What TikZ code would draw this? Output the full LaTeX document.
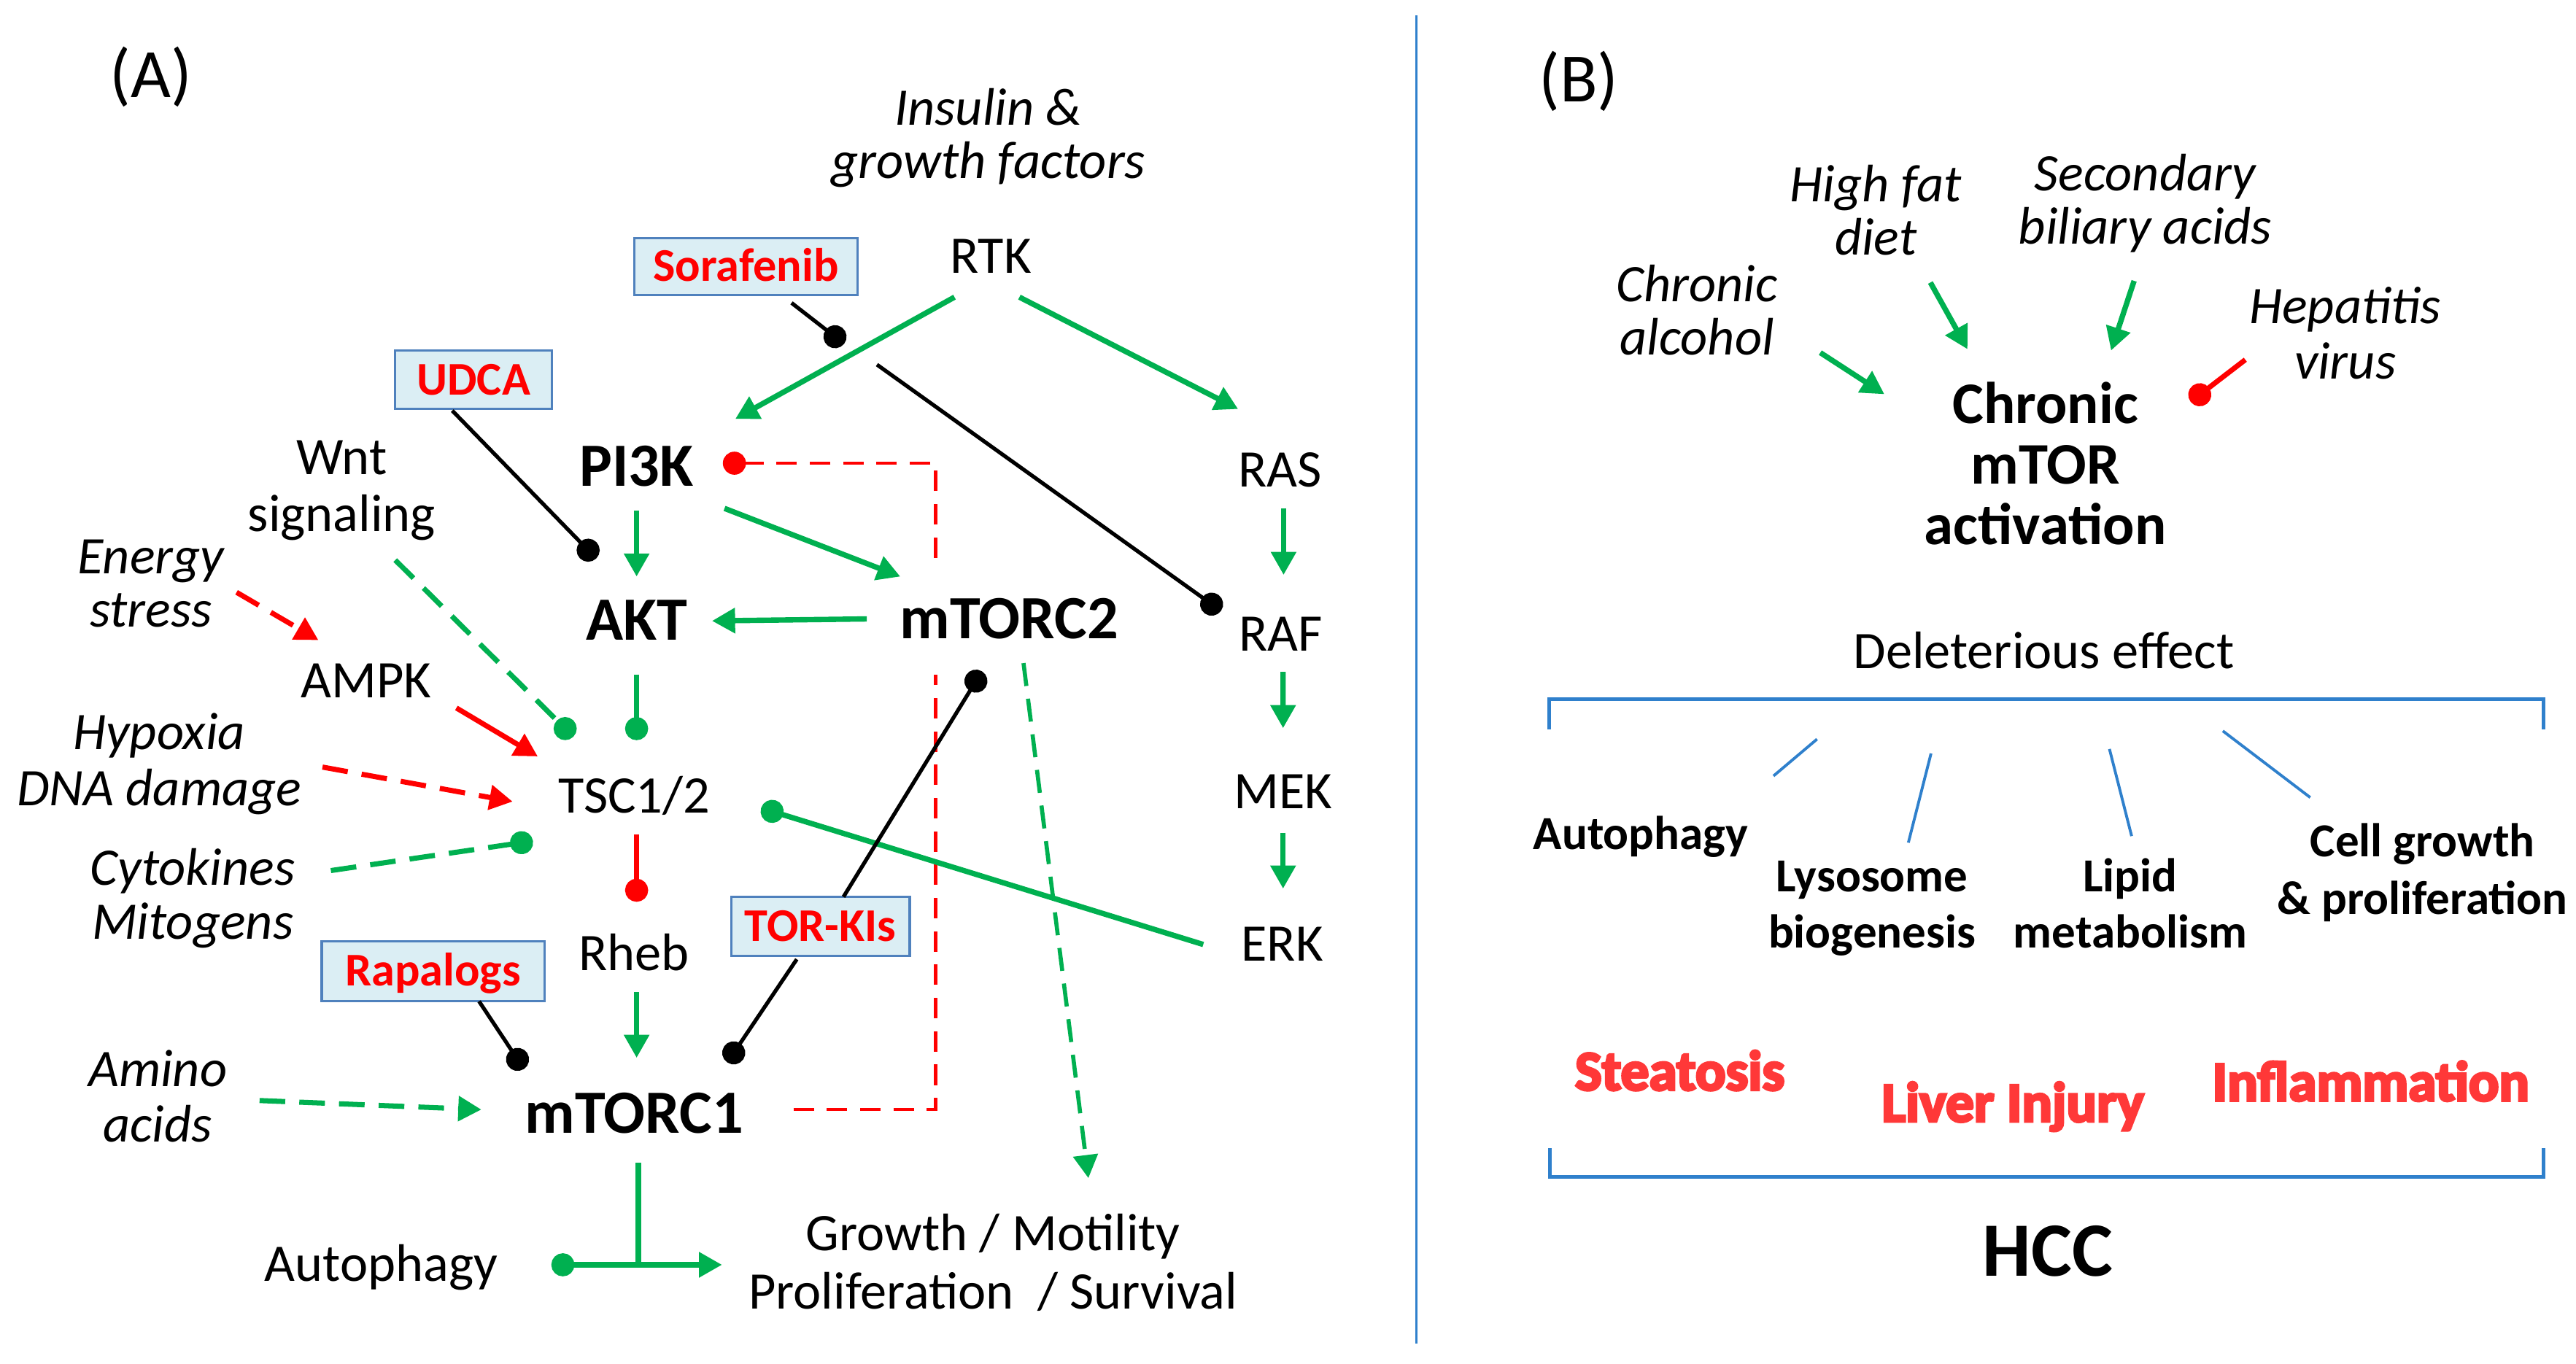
\documentclass[tikz,border=0pt]{standalone}
\usepackage{fontspec}
\setmainfont{Carlito}
\newfontfamily\heavyfont{Carlito}[BoldFeatures={FakeBold=4.5}]
\usetikzlibrary{arrows.meta,calc}
\definecolor{mgreen}{RGB}{0,176,80}
\definecolor{mred}{RGB}{255,0,0}
\definecolor{boxfill}{RGB}{219,238,244}
\definecolor{boxline}{RGB}{79,129,189}
\definecolor{mblue}{RGB}{47,128,204}
\definecolor{softred}{RGB}{255,56,56}
\newcommand{\myfs}[2]{\fontsize{#1pt}{#2pt}\selectfont}
\tikzset{
 nb/.style={inner sep=0pt, text depth=0pt},
 lbl/.style={nb, text height=13pt, font=\myfs{20.6}{21}},
 ilbl/.style={nb, text height=13pt, font=\myfs{20.6}{21}\itshape},
 blbl/.style={nb, text height=15.2pt, font=\myfs{24}{25}\bfseries},
 plbl/.style={nb, text height=17.1pt, font=\myfs{27}{28}},
 elbl/.style={nb, text height=11.7pt, font=\myfs{18.5}{19}\bfseries},
 hvy/.style={nb, text height=13.9pt, text=softred, font=\myfs{22}{23}\heavyfont\bfseries},
 drug/.style={nb, text height=11.6pt, draw=boxline, line width=0.9pt, fill=boxfill, text=mred, font=\myfs{18.3}{19}\bfseries},
 two/.style={align=center, text height=#1},
 ga/.style={draw=mgreen, line width=2.1pt, -{Triangle[length=9pt,width=9.5pt]}},
 gdot/.style={draw=mgreen, line width=2.1pt, -{Circle[length=9pt]}},
 gdashdot/.style={draw=mgreen, line width=2pt, dash pattern=on 10pt off 5.5pt, -{Circle[length=9pt]}},
 gdasharr/.style={draw=mgreen, line width=2pt, dash pattern=on 10pt off 5.5pt, -{Triangle[length=9pt,width=9.5pt]}},
 gdashthin/.style={draw=mgreen, line width=1.6pt, dash pattern=on 9pt off 5pt, -{Triangle[length=9pt,width=9.5pt]}},
 gline/.style={draw=mgreen, line width=2.1pt},
 rarr/.style={draw=mred, line width=2pt, -{Triangle[length=9pt,width=9.5pt]}},
 rdasharr/.style={draw=mred, line width=2pt, dash pattern=on 10pt off 5.5pt, -{Triangle[length=9pt,width=9.5pt]}},
 rdot/.style={draw=mred, line width=2pt, -{Circle[length=9pt]}},
 rthin/.style={draw=mred, line width=1.2pt, dash pattern=on 8pt off 5pt},
 bk/.style={draw=black, line width=1.5pt, -{Circle[length=9pt]}},
 bl/.style={draw=mblue, line width=1.1pt},
 brk/.style={draw=mblue, line width=1.4pt},
 divl/.style={draw=mblue, line width=0.9pt},
}
\begin{document}
\begin{tikzpicture}[x=0.022519cm, y=-0.022519cm]
\useasboundingbox (0,0) rectangle (1568,830);

% ---------------- Panel A nodes ----------------
\node[plbl] (labA) at (91.8,46) {(A)};
\node[ilbl, two=33.7pt, font=\myfs{20.6}{20.7}\itshape] (ins) at (601.6,82.2) {Insulin \&\\growth factors};
\node[lbl] (rtk) at (603,156) {RTK};
\node[drug, minimum width=87.1pt, minimum height=22.4pt] (sora) at (454,162.3) {Sorafenib};
\node[drug, minimum width=61.1pt, minimum height=22.8pt] (udca) at (288.3,231.2) {UDCA};
\node[lbl, two=35.4pt, font=\myfs{20.6}{22.4}] (wnt) at (208,296) {Wnt\\signaling};
\node[blbl] (pi3k) at (387.5,284) {PI3K};
\node[lbl] (ras) at (779,286.4) {RAS};
\node[ilbl, two=33.8pt, font=\myfs{20.6}{20.8}\itshape] (energy) at (91.8,355.2) {Energy\\stress};
\node[blbl] (akt) at (387.5,378) {AKT};
\node[blbl] (mtorc2) at (614.3,377) {mTORC2};
\node[lbl] (raf) at (779.7,386.4) {RAF};
\node[lbl] (ampk) at (222.8,414.7) {AMPK};
\node[ilbl, two=34.9pt, font=\myfs{20.6}{21.9}\itshape] (hyp) at (96.9,463.4) {Hypoxia\\DNA damage};
\node[lbl] (tsc) at (386,484.7) {TSC1/2};
\node[lbl] (mek) at (781,482.2) {MEK};
\node[ilbl, two=34.1pt, font=\myfs{20.6}{21.1}\itshape] (cyto) at (117.3,545) {Cytokines\\Mitogens};
\node[lbl] (rheb) at (386,580.8) {Rheb};
\node[lbl] (erk) at (780.5,574.7) {ERK};
\node[drug, minimum width=86.9pt, minimum height=23.4pt] (rapa) at (263.6,591.3) {Rapalogs};
\node[drug, minimum width=69.6pt, minimum height=23pt] (torki) at (499.4,563.9) {TOR-KIs};
\node[ilbl, two=34.5pt, font=\myfs{20.6}{21.5}\itshape] (amino) at (96,668.2) {Amino\\acids};
\node[blbl] (mtorc1) at (386,678) {mTORC1};
\node[lbl] (autoA) at (232,770) {Autophagy};
\node[lbl, two=35.7pt, font=\myfs{20.6}{22.7}] (growth) at (604.5,769) {Growth / Motility\\Proliferation~ / Survival};

% ---------------- Panel A connectors ----------------
\draw[ga] ($(rtk)+(-22,24.9)$) -- ($(pi3k)+(60.1,-29)$);
\draw[ga] ($(rtk)+(17.5,24.9)$) -- ($(ras)+(-25.4,-37.4)$);
\draw[bk] ($(sora)+(27.8,22.1)$) -- ($(sora)+(59.8,47)$);
\draw[bk] ($(sora)+(79.8,59.7)$) -- ($(raf)+(-36.5,-14.5)$);
\draw[bk] ($(udca)+(-13,18.8)$) -- ($(akt)+(-24.6,-38)$);
\draw[ga] ($(pi3k)+(0,26.8)$) -- ($(akt)+(0,-27)$);
\draw[ga] ($(pi3k)+(53.5,25.5)$) -- ($(mtorc2)+(-66.3,-26)$);
\draw[ga] ($(mtorc2)+(-86.7,-0.2)$) -- ($(akt)+(45.9,0)$);
\draw[ga] ($(ras)+(2.3,23)$) -- ($(raf)+(1.6,-36.4)$);
\draw[ga] ($(raf)+(1.3,22.6)$) -- ($(mek)+(0,-38.9)$);
\draw[ga] ($(mek)+(0,24.8)$) -- ($(erk)+(0.5,-33.7)$);
\draw[rthin] ($(mtorc1)+(97,-2.5)$) -| ($(mtorc2)+(-44.8,33.7)$);
\draw[rthin,-{Circle[length=9pt]}] ($(mtorc2)+(-44.8,-37.4)$) |- ($(pi3k)+(52.5,-2)$);
\draw[rdasharr] ($(energy)+(52.2,5.4)$) -- ($(ampk)+(-29,-25)$);
\draw[gdashdot] ($(wnt)+(32.6,45)$) -- ($(tsc)+(-37,-36.2)$);
\draw[gdot] ($(akt)+(0,32.6)$) -- ($(tsc)+(1.5,-34.1)$);
\draw[rarr] ($(ampk)+(55,16.3)$) -- ($(tsc)+(-58.7,-24.2)$);
\draw[rdasharr] ($(hyp)+(99.4,3.6)$) -- ($(tsc)+(-74,3.3)$);
\draw[gdashdot] ($(cyto)+(84.1,-15)$) -- ($(tsc)+(-61.6,27.3)$);
\draw[gdot] ($(erk)+(-48.1,0.3)$) -- ($(tsc)+(77.3,7.2)$);
\draw[rdot] ($(tsc)+(1.5,23.3)$) -- ($(rheb)+(1.5,-31.8)$);
\draw[bk] ($(torki)+(14,-17.9)$) -- ($(mtorc2)+(-16.6,31.7)$);
\draw[bk] ($(torki)+(-14.4,20.1)$) -- ($(mtorc1)+(56.7,-31.2)$);
\draw[bk] ($(rapa)+(28,18.3)$) -- ($(mtorc1)+(-67.1,-27.2)$);
\draw[ga] ($(rheb)+(1.5,23.2)$) -- ($(mtorc1)+(1.5,-34)$);
\draw[gdasharr] ($(amino)+(62,1.8)$) -- ($(mtorc1)+(-93,-2.5)$);
\draw[gdashthin] ($(mtorc2)+(8.7,26.7)$) -- ($(growth)+(58,-51.8)$);
\draw[gline] ($(mtorc1)+(2.5,30)$) -- ($(autoA)+(156.5,0)$);
\draw[gline, {Circle[length=9pt]}-{Triangle[length=9pt,width=9.5pt]}] ($(autoA)+(103.6,0)$) -- ($(growth)+(-165,1)$);

% ---------------- divider ----------------
\draw[divl] (862,9.4) -- (862,818);

% ---------------- Panel B ----------------
\node[plbl] (labB) at (961,48.5) {(B)};
\node[ilbl, two=33.8pt, font=\myfs{20.6}{20.8}\itshape] (highfat) at (1141.8,128.7) {High fat\\diet};
\node[ilbl, two=33.9pt, font=\myfs{20.6}{20.9}\itshape] (second) at (1305.8,122.3) {Secondary\\biliary acids};
\node[ilbl, two=33.7pt, font=\myfs{20.6}{20.7}\itshape] (chralc) at (1033,189.7) {Chronic\\alcohol};
\node[ilbl, two=34.7pt, font=\myfs{20.6}{21.7}\itshape] (hep) at (1427.5,203.7) {Hepatitis\\virus};
\node[nb, align=center, text height=61.9pt, font=\myfs{23}{23.7}\bfseries] (chronic) at (1245,283.3) {Chronic\\mTOR\\activation};
\node[lbl] (delet) at (1244,397) {Deleterious effect};
\node[elbl] (autoB) at (998.7,508) {Autophagy};
\node[elbl, two=33.5pt, font=\myfs{18.5}{21.8}\bfseries] (lyso) at (1139.5,550.8) {Lysosome\\biogenesis};
\node[elbl, two=33.7pt, font=\myfs{18.5}{22}\bfseries] (lipid) at (1296.6,550.8) {Lipid\\metabolism};
\node[elbl, two=34.2pt, font=\myfs{18.5}{22.5}\bfseries] (cell) at (1474.6,530) {Cell growth\\\& proliferation};
\node[hvy] (steat) at (1022.5,652.8) {Steatosis};
\node[hvy] (liver) at (1225.2,672) {Liver Injury};
\node[hvy] (infl) at (1443.1,659.3) {Inflammation};
\node[nb, text height=19pt, font=\myfs{30}{31}\bfseries] (hcc) at (1246.5,762) {HCC};

\draw[ga] ($(chralc)+(75,25)$) -- ($(chronic)+(-98,-43.3)$);
\draw[ga] ($(highfat)+(33.2,43.3)$) -- ($(chronic)+(-47.4,-70.7)$);
\draw[ga] ($(second)+(-6.8,48.7)$) -- ($(chronic)+(40,-69.9)$);
\draw[rdot] ($(hep)+(-60.8,15.3)$) -- ($(chronic)+(88.4,-38.7)$);

\draw[bl] ($(autoB)+(80.8,-35.6)$) -- ($(autoB)+(107.3,-58)$);
\draw[bl] ($(lyso)+(22.1,-37.8)$) -- ($(lyso)+(35.9,-92.1)$);
\draw[bl] ($(lipid)+(0.9,-41.8)$) -- ($(lipid)+(-12.6,-94.8)$);
\draw[bl] ($(cell)+(-121.6,-85)$) -- ($(cell)+(-68.4,-44.5)$);

\draw[brk] (943,444) -- (943,425.7) -- (1548.3,425.7) -- (1548.3,444);
\draw[brk] (943.5,699) -- (943.5,716.6) -- (1548.3,716.6) -- (1548.3,699);
\end{tikzpicture}
\end{document}
